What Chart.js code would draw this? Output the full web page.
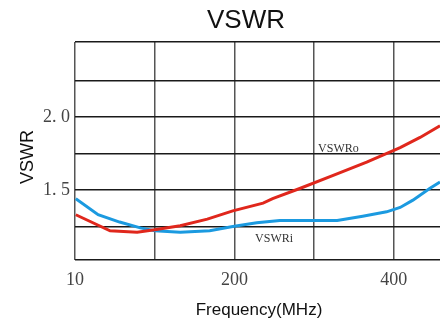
<!DOCTYPE html>
<html>
<head>
<meta charset="utf-8">
<script src="https://cdn.jsdelivr.net/npm/chart.js@4/dist/chart.umd.min.js"></script>
<style>
  html, body { margin: 0; padding: 0; background: #fff; overflow: hidden; }
  #wrap { width: 440px; height: 321px; }
</style>
</head>
<body>
<div id="wrap"><canvas id="myChart" width="440" height="321"></canvas></div>
<script>
// datos (x en unidades del eje: cada reticula = 100)
const freqO = [1, 44, 78, 100, 132, 166, 198, 236, 248, 282, 324, 366, 408, 433, 458];
const vswrO = [1.33, 1.22, 1.21, 1.227, 1.255, 1.30, 1.357, 1.41, 1.44, 1.51, 1.60, 1.69, 1.79, 1.86, 1.94];
const freqI = [1, 29, 56, 82, 100, 132, 169, 198, 228, 257, 299, 329, 361, 391, 408, 424, 445, 458];
const vswrI = [1.44, 1.33, 1.28, 1.24, 1.22, 1.21, 1.22, 1.25, 1.275, 1.29, 1.29, 1.29, 1.32, 1.35, 1.38, 1.43, 1.51, 1.555];
const xTickLabels = { 0: "10", 200: "200", 400: "400" };
const yTickLabels = { 1.5: "1. 5", 2: "2. 0" };
const yMin = 1.02;
const yMax = 2.514;
const titulo = "VSWR";
const tituloX = "Frequency(MHz)";
const tituloY = "VSWR";

const toPoints = (xs, ys) => xs.map((x, i) => ({ x: x, y: ys[i] }));

// textos: titulo, ejes y etiquetas de curvas
const textos = {
  id: "textos",
  afterDraw(chart) {
    const ctx = chart.ctx;
    const sx = chart.scales.x;
    const sy = chart.scales.y;
    ctx.save();
    ctx.fillStyle = "#111";
    ctx.textAlign = "center";
    ctx.textBaseline = "alphabetic";
    ctx.font = "26px 'Liberation Sans', Arial, sans-serif";
    ctx.fillText(titulo, 246, 28);
    ctx.font = "17px 'Liberation Sans', Arial, sans-serif";
    ctx.fillText(tituloX, 259, 315);
    ctx.save();
    ctx.translate(33, 157);
    ctx.rotate(-Math.PI / 2);
    ctx.font = "18px 'Liberation Sans', Arial, sans-serif";
    ctx.fillText(tituloY, 0, 0);
    ctx.restore();
    ctx.fillStyle = "#333";
    ctx.textAlign = "left";
    ctx.font = "12px 'Liberation Serif', serif";
    ctx.fillText("VSWRo", sx.getPixelForValue(305), sy.getPixelForValue(1.76));
    ctx.fillText("VSWRi", sx.getPixelForValue(226), sy.getPixelForValue(1.14));
    ctx.restore();
  }
};

const config = {
  type: "line",
  data: {
    datasets: [
      {
        label: "VSWRo",
        data: toPoints(freqO, vswrO),
        borderColor: "#e0271c",
        borderWidth: 3,
        pointRadius: 0,
        tension: 0
      },
      {
        label: "VSWRi",
        data: toPoints(freqI, vswrI),
        borderColor: "#1b9ae0",
        borderWidth: 3,
        pointRadius: 0,
        tension: 0
      }
    ]
  },
  options: {
    responsive: false,
    animation: false,
    layout: { padding: { top: 42, right: 0, left: 0, bottom: 0 } },
    plugins: {
      legend: { display: false },
      tooltip: { enabled: false }
    },
    scales: {
      x: {
        type: "linear",
        min: 0,
        max: 458,
        afterFit: (scale) => { scale.height = 61; },
        afterBuildTicks: (scale) => {
          scale.ticks = [0, 100, 200, 300, 400].map((v) => ({ value: v }));
        },
        border: { display: false },
        grid: { color: "#555", lineWidth: 1.5, drawTicks: false },
        ticks: {
          padding: 9,
          color: "#444",
          maxRotation: 0,
          autoSkip: false,
          font: { family: "'Liberation Serif', serif", size: 18 },
          callback: (v) => xTickLabels[v] || ""
        }
      },
      y: {
        min: yMin,
        max: yMax,
        afterFit: (scale) => { scale.width = 75; },
        afterBuildTicks: (scale) => {
          scale.ticks = [yMin, 1.25, 1.5, 1.75, 2.0, 2.25, yMax].map((v) => ({ value: v }));
        },
        border: { display: false },
        grid: { color: "#1a1a1a", lineWidth: 1.5, drawTicks: false },
        ticks: {
          padding: 5,
          color: "#444",
          autoSkip: false,
          font: { family: "'Liberation Serif', serif", size: 18 },
          callback: (v) => yTickLabels[v] || ""
        }
      }
    }
  },
  plugins: [textos]
};

const myChart = document.getElementById("myChart");
new Chart(myChart, config);
</script>
</body>
</html>
